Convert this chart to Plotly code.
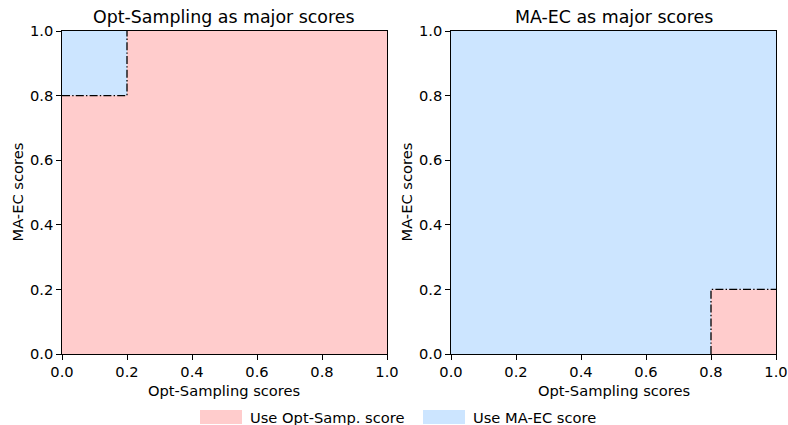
import plotly.graph_objects as go

# Score-selection regions on the unit square (Opt-Sampling score on x, MA-EC score on y)
panel_titles = ["Opt-Sampling as major scores", "MA-EC as major scores"]
x_label = "Opt-Sampling scores"
y_label = "MA-EC scores"
legend_labels = ["Use Opt-Samp. score", "Use MA-EC score"]
tick_values = [0.0, 0.2, 0.4, 0.6, 0.8, 1.0]
threshold_low = 0.2
threshold_high = 0.8

pink = "#FFCCCC"
blue = "#CCE5FF"

W, H = 788, 425
left_dom = [62 / W, 387 / W]
right_dom = [451 / W, 776 / W]
y_dom = [1 - 354 / H, 1 - 31 / H]

fig = go.Figure()

def rect(x0, x1, y0, y1):
    return [x0, x1, x1, x0, x0], [y0, y0, y1, y1, y0]

dash_dot = dict(color="black", width=1.3, dash="8px,2.2px,1.4px,2.2px")

# Left panel: Opt-Sampling dominates, MA-EC only where Opt-Sampling low and MA-EC high
xs, ys = rect(0, 1, 0, 1)
fig.add_trace(go.Scatter(x=xs, y=ys, fill="toself", fillcolor=pink, mode="none",
                         xaxis="x", yaxis="y", showlegend=False, hoverinfo="skip"))
xs, ys = rect(0, threshold_low, threshold_high, 1)
fig.add_trace(go.Scatter(x=xs, y=ys, fill="toself", fillcolor=blue, mode="none",
                         xaxis="x", yaxis="y", showlegend=False, hoverinfo="skip"))
fig.add_trace(go.Scatter(x=[0, threshold_low, threshold_low], y=[threshold_high, threshold_high, 1],
                         mode="lines", line=dash_dot,
                         xaxis="x", yaxis="y", showlegend=False, hoverinfo="skip"))

# Right panel: MA-EC dominates, Opt-Sampling only where Opt-Sampling high and MA-EC low
xs, ys = rect(0, 1, 0, 1)
fig.add_trace(go.Scatter(x=xs, y=ys, fill="toself", fillcolor=blue, mode="none",
                         xaxis="x2", yaxis="y2", showlegend=False, hoverinfo="skip"))
xs, ys = rect(threshold_high, 1, 0, threshold_low)
fig.add_trace(go.Scatter(x=xs, y=ys, fill="toself", fillcolor=pink, mode="none",
                         xaxis="x2", yaxis="y2", showlegend=False, hoverinfo="skip"))
fig.add_trace(go.Scatter(x=[threshold_high, threshold_high, 1], y=[0, threshold_low, threshold_low],
                         mode="lines", line=dash_dot,
                         xaxis="x2", yaxis="y2", showlegend=False, hoverinfo="skip"))

FS = 14.67
tick_font = dict(family="DejaVu Sans", size=FS, color="black")
common = dict(range=[0, 1], tickvals=tick_values, tickformat=".1f",
              showline=True, linecolor="black", linewidth=1.1, mirror=True,
              ticks="outside", ticklen=4.7, tickwidth=1.1, tickcolor="black",
              showgrid=False, zeroline=False, tickfont=tick_font, automargin=False)

fig.update_layout(
    width=W, height=H,
    margin=dict(l=0, r=0, t=0, b=0),
    paper_bgcolor="white", plot_bgcolor="white",
    font=dict(family="DejaVu Sans", color="black"),
    xaxis=dict(common, domain=left_dom, anchor="y"),
    yaxis=dict(common, domain=y_dom, anchor="x"),
    xaxis2=dict(common, domain=right_dom, anchor="y2"),
    yaxis2=dict(common, domain=y_dom, anchor="x2"),
    showlegend=False,
)

# Panel titles and axis labels
for dom, title in zip([left_dom, right_dom], panel_titles):
    cx = (dom[0] + dom[1]) / 2
    fig.add_annotation(x=cx, y=1 - 17 / H, xref="paper", yref="paper",
                       text=title, showarrow=False, xanchor="center", yanchor="middle",
                       font=dict(family="DejaVu Sans", size=17.4, color="black"))
    fig.add_annotation(x=cx, y=1 - 390 / H, xref="paper", yref="paper",
                       text=x_label, showarrow=False, xanchor="center", yanchor="middle",
                       font=tick_font)
    fig.add_annotation(x=dom[0] - 45 / W, y=(y_dom[0] + y_dom[1]) / 2, xref="paper", yref="paper",
                       text=y_label, showarrow=False, textangle=-90,
                       xanchor="center", yanchor="middle", font=tick_font)

# Legend below the panels
legend_items = [(200, pink, legend_labels[0]), (423, blue, legend_labels[1])]
for x0, color, label in legend_items:
    fig.add_shape(type="rect", xref="paper", yref="paper",
                  x0=x0 / W, x1=(x0 + 42) / W, y0=1 - 424 / H, y1=1 - 410 / H,
                  fillcolor=color, line=dict(width=0))
    fig.add_annotation(x=(x0 + 48) / W, y=1 - 417 / H, xref="paper", yref="paper",
                       text=label, showarrow=False, xanchor="left", yanchor="middle",
                       font=tick_font)

fig.write_html("out.html")
